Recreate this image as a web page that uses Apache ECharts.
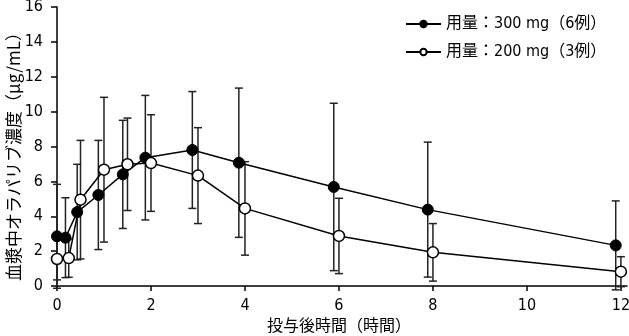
<!DOCTYPE html>
<html>
<head>
<meta charset="utf-8">
<script src="https://cdn.jsdelivr.net/npm/echarts@6/dist/echarts.min.js"></script>
<style>
html,body{margin:0;padding:0;background:#fff;}
#chart{width:629px;height:336px;}
</style>
</head>
<body>
<div id="chart"></div>
<script>
// Data
var time300 = [0, 0.18, 0.43, 0.88, 1.4, 1.88, 2.88, 3.87, 5.89, 7.89, 11.89];
var mean300 = [2.85, 2.77, 4.24, 5.22, 6.40, 7.36, 7.80, 7.07, 5.68, 4.38, 2.33];
var sd300   = [2.98, 2.29, 2.74, 3.13, 3.10, 3.57, 3.35, 4.28, 4.80, 3.87, 2.55];
var time200 = [0, 0.25, 0.5, 1, 1.5, 2, 3, 4, 6, 8, 12];
var mean200 = [1.55, 1.60, 4.95, 6.67, 6.98, 7.05, 6.33, 4.45, 2.87, 1.93, 0.82];
var sd200   = [1.20, 1.10, 3.40, 4.15, 2.65, 2.77, 2.75, 2.68, 2.16, 1.65, 0.86];
var xTicks = [0, 2, 4, 6, 8, 10, 12];
var seriesNames = ['用量：300 mg（6例）', '用量：200 mg（3例）'];

var numFont = '"Liberation Sans Narrow","DejaVu Sans Condensed","Noto Sans CJK JP",sans-serif';
var cjkFont = '"Noto Sans CJK JP",sans-serif';

function pts(t, m) { return t.map(function (v, i) { return [v, m[i]]; }); }
function errData(t, m, s) { return t.map(function (v, i) { return [v, m[i] - s[i], m[i] + s[i]]; }); }

function errRender(params, api) {
  var x = api.value(0), lo = api.value(1), hi = api.value(2);
  var pHi = api.coord([x, hi]);
  var pLo = api.coord([x, lo]);
  var cap = 4;
  var st = { stroke: '#222', lineWidth: 1.5, fill: null };
  return {
    type: 'group',
    children: [
      { type: 'line', shape: { x1: pHi[0], y1: pHi[1], x2: pLo[0], y2: pLo[1] }, style: st },
      { type: 'line', shape: { x1: pHi[0] - cap, y1: pHi[1], x2: pHi[0] + cap, y2: pHi[1] }, style: st },
      { type: 'line', shape: { x1: pLo[0] - cap, y1: pLo[1], x2: pLo[0] + cap, y2: pLo[1] }, style: st }
    ]
  };
}

var chart = echarts.init(document.getElementById('chart'), null, { renderer: 'canvas' });
chart.setOption({
  animation: false,
  backgroundColor: '#fff',
  grid: { left: 57, right: 2, top: 7, bottom: 50, containLabel: false, outerBoundsMode: 'none' },
  legend: {
    orient: 'vertical',
    left: 405,
    top: 16,
    padding: 0,
    itemWidth: 35,
    itemHeight: 8,
    itemGap: 12,
    data: seriesNames,
    textStyle: { fontFamily: numFont, fontSize: 16, color: '#000' }
  },
  xAxis: {
    type: 'value',
    min: 0,
    max: 12.13,
    name: '投与後時間（時間）',
    nameLocation: 'middle',
    nameGap: 31,
    nameMoveOverlap: false,
    nameTextStyle: { fontFamily: cjkFont, fontSize: 16, color: '#000', padding: [0, 6, 0, 0] },
    axisLine: { show: true, onZero: false, lineStyle: { color: '#000', width: 1.5 } },
    axisTick: { show: true, length: 5, customValues: xTicks, lineStyle: { color: '#000', width: 1.5 } },
    axisLabel: { customValues: xTicks, margin: 12, fontFamily: numFont, fontSize: 16, color: '#000' },
    splitLine: { show: false }
  },
  yAxis: {
    type: 'value',
    min: 0,
    max: 16,
    interval: 2,
    name: '血漿中オラパリブ濃度（μg/mL）',
    nameLocation: 'middle',
    nameRotate: 90,
    nameGap: 35,
    nameMoveOverlap: false,
    nameTextStyle: { fontFamily: cjkFont, fontSize: 17, color: '#000', padding: [0, 12, 0, 0] },
    axisLine: { show: true, lineStyle: { color: '#000', width: 1.5 } },
    axisTick: { show: true, length: 6, lineStyle: { color: '#000', width: 1.5 } },
    axisLabel: { margin: 14, fontFamily: numFont, fontSize: 16, color: '#000' },
    splitLine: { show: false }
  },
  series: [
    {
      type: 'custom',
      name: 'err300',
      renderItem: errRender,
      data: errData(time300, mean300, sd300),
      encode: { x: 0, y: [1, 2] },
      clip: false,
      z: 1,
      silent: true
    },
    {
      type: 'custom',
      name: 'err200',
      renderItem: errRender,
      data: errData(time200, mean200, sd200),
      encode: { x: 0, y: [1, 2] },
      clip: false,
      z: 1,
      silent: true
    },
    {
      type: 'line',
      name: seriesNames[0],
      data: pts(time300, mean300),
      symbol: 'circle',
      symbolSize: 11,
      showAllSymbol: true,
      lineStyle: { color: '#000', width: 1.5 },
      itemStyle: { color: '#000', borderColor: '#000', borderWidth: 1 },
      z: 3
    },
    {
      type: 'line',
      name: seriesNames[1],
      data: pts(time200, mean200),
      symbol: 'circle',
      symbolSize: 11,
      showAllSymbol: true,
      lineStyle: { color: '#000', width: 1.5 },
      itemStyle: { color: '#fff', borderColor: '#000', borderWidth: 1.5 },
      z: 4
    }
  ]
});
</script>
</body>
</html>
